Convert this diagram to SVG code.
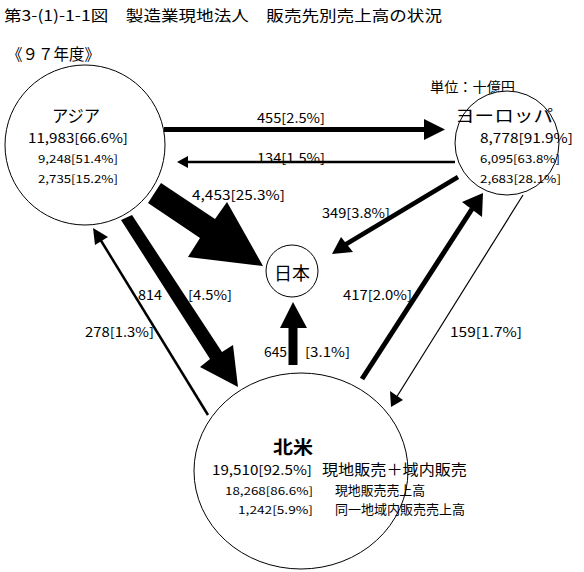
<svg xmlns="http://www.w3.org/2000/svg" width="584" height="572" viewBox="0 0 584 572">
<style>
text{font-family:"Noto Sans CJK JP","Noto Sans",sans-serif;fill:#000}
.node{fill:#fff;stroke:#000;stroke-width:1}
.lbl{font-size:13px}
.s11{font-size:11px}
.s13{font-size:13px}
.big{font-size:17px}
.line{stroke:#000;fill:none}
.head{fill:#000}
</style>
<rect width="584" height="572" fill="#fff"/>
<text x="4" y="21" style="font-size:15px" textLength="438" lengthAdjust="spacingAndGlyphs">第3-(1)-1-1図　製造業現地法人　販売先別売上高の状況</text>
<text x="7" y="60" style="font-size:16px" textLength="93" lengthAdjust="spacingAndGlyphs">《９７年度》</text>
<text x="430" y="92" style="font-size:14px" textLength="85" lengthAdjust="spacingAndGlyphs">単位：十億円</text>

<g id="asia">
<circle class="node" cx="85" cy="145" r="80"/>
<text class="big" x="52" y="122" textLength="48" lengthAdjust="spacingAndGlyphs">アジア</text>
<text class="s13" x="28" y="143" textLength="100" lengthAdjust="spacingAndGlyphs">11,983[66.6%]</text>
<text class="s11" x="38" y="163" textLength="80" lengthAdjust="spacingAndGlyphs">9,248[51.4%]</text>
<text class="s11" x="38" y="183" textLength="80" lengthAdjust="spacingAndGlyphs">2,735[15.2%]</text>
</g>

<g id="europe">
<circle class="node" cx="507" cy="143" r="52"/>
<text class="big" x="455" y="122" textLength="98" lengthAdjust="spacingAndGlyphs">ヨーロッパ</text>
<text class="s13" x="480" y="143" textLength="93" lengthAdjust="spacingAndGlyphs">8,778[91.9%]</text>
<text class="s11" x="480" y="163" textLength="80" lengthAdjust="spacingAndGlyphs">6,095[63.8%]</text>
<text class="s11" x="480" y="183" textLength="81" lengthAdjust="spacingAndGlyphs">2,683[28.1%]</text>
</g>

<g id="japan">
<circle class="node" cx="292" cy="271" r="26"/>
<text x="292" y="280" text-anchor="middle" style="font-size:18px">日本</text>
</g>

<g id="northamerica">
<ellipse class="node" cx="301" cy="471" rx="107" ry="98"/>
<text x="273" y="454" style="font-size:18px;font-weight:bold" textLength="40" lengthAdjust="spacingAndGlyphs">北米</text>
<text class="s13" x="212" y="475"><tspan x="212" textLength="100" lengthAdjust="spacingAndGlyphs">19,510[92.5%]</tspan><tspan x="322" style="font-size:15px" textLength="145" lengthAdjust="spacingAndGlyphs">現地販売＋域内販売</tspan></text>
<text class="s11" x="225" y="495"><tspan x="225" textLength="88" lengthAdjust="spacingAndGlyphs">18,268[86.6%]</tspan><tspan x="335" style="font-size:13px" textLength="90" lengthAdjust="spacingAndGlyphs">現地販売売上高</tspan></text>
<text class="s11" x="238" y="514"><tspan x="238" textLength="75" lengthAdjust="spacingAndGlyphs">1,242[5.9%]</tspan><tspan x="335" style="font-size:13px" textLength="130" lengthAdjust="spacingAndGlyphs">同一地域内販売売上高</tspan></text>
</g>

<g id="connectors">
<!-- Asia -> Europe 455 -->
<line class="line" x1="164" y1="129.5" x2="426" y2="129.5" stroke-width="5"/>
<polygon class="head" points="424,119 445,129.5 424,140"/>
<!-- Europe -> Asia 134 -->
<line class="line" x1="455" y1="162" x2="186" y2="162" stroke-width="2.5"/>
<polygon class="head" points="188,156 177,162 188,168"/>
<!-- Asia -> Japan 4,453 -->
<polygon class="head" points="161,183 215,219 227,202 263,266 188,257 200,238 148,203"/>
<!-- Europe -> Japan 349 -->
<line class="line" x1="458" y1="177" x2="343" y2="246" stroke-width="4.5"/>
<polygon class="head" points="341,237 332,254 353,252"/>
<!-- Asia -> NA 814 -->
<polygon class="head" points="121,220 132,215 222,352 233,345 238,387 200,367 210,359"/>
<!-- NA -> Asia 278 -->
<line class="line" x1="208" y1="415" x2="100" y2="239" stroke-width="2.5"/>
<polygon class="head" points="93,228 95,245 108,237"/>
<!-- NA -> Japan 645 -->
<rect class="head" x="288.5" y="326" width="9" height="39"/>
<polygon class="head" points="280,328 293,302 307,328"/>
<!-- NA -> Europe 417 -->
<line class="line" x1="362" y1="379" x2="472" y2="209" stroke-width="5"/>
<polygon class="head" points="462,202 483,193 482,217"/>
<!-- Europe -> NA 159 -->
<line class="line" x1="523" y1="195" x2="396" y2="398" stroke-width="1.2"/>
<polygon class="head" points="391,407 390,391 403,400"/>

<text class="lbl" x="257" y="123" textLength="68" lengthAdjust="spacingAndGlyphs">455[2.5%]</text>
<text class="lbl" x="257" y="163" textLength="68" lengthAdjust="spacingAndGlyphs">134[1.5%]</text>
<text class="lbl" x="192" y="200" textLength="93" lengthAdjust="spacingAndGlyphs">4,453[25.3%]</text>
<text class="lbl" x="322" y="218" textLength="68" lengthAdjust="spacingAndGlyphs">349[3.8%]</text>
<text class="lbl" x="138" y="300"><tspan x="138" textLength="24" lengthAdjust="spacingAndGlyphs">814</tspan><tspan x="188" textLength="44" lengthAdjust="spacingAndGlyphs">[4.5%]</tspan></text>
<text class="lbl" x="85" y="337" textLength="69" lengthAdjust="spacingAndGlyphs">278[1.3%]</text>
<text class="lbl" x="264" y="357"><tspan x="264" textLength="23" lengthAdjust="spacingAndGlyphs">645</tspan><tspan x="305" textLength="45" lengthAdjust="spacingAndGlyphs">[3.1%]</tspan></text>
<text class="lbl" x="343" y="300" textLength="69" lengthAdjust="spacingAndGlyphs">417[2.0%]</text>
<text class="lbl" x="450" y="337" textLength="72" lengthAdjust="spacingAndGlyphs">159[1.7%]</text>
</g>
</svg>
